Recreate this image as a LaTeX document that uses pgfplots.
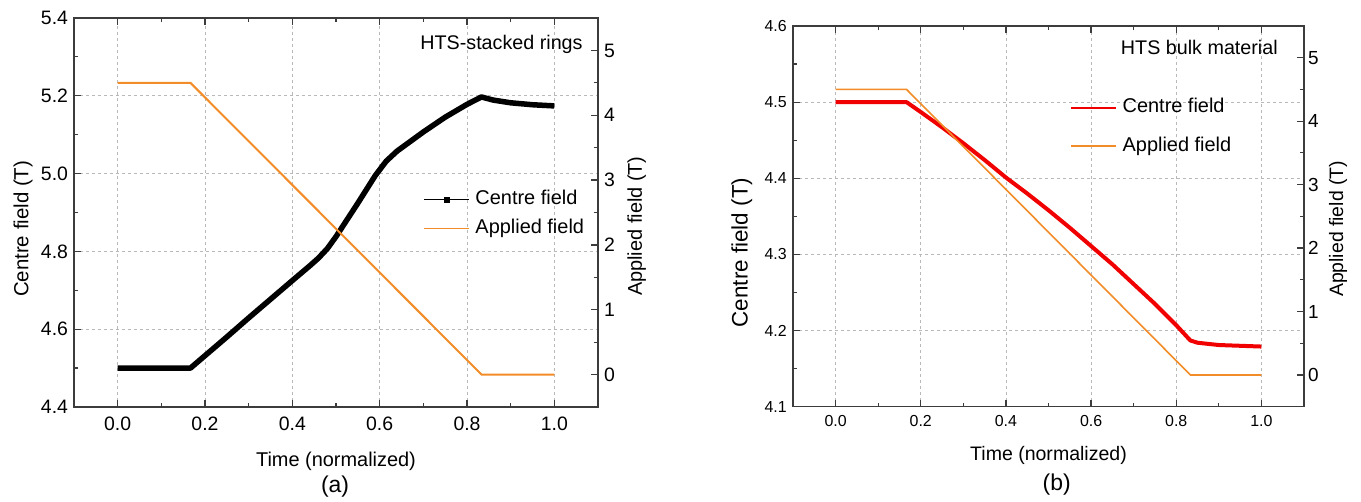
\documentclass[border=0pt]{standalone}
\usepackage{pgfplots}
\pgfplotsset{compat=1.18}
\usepackage{fontspec}
\setmainfont{Liberation Sans}
\definecolor{aorange}{RGB}{242,140,40}
\definecolor{axgray}{RGB}{60,60,60}
\definecolor{cred}{RGB}{240,0,0}

\pgfplotsset{
  panel/.style={
    scale only axis,
    xmin=-0.1, xmax=1.1,
    /pgf/number format/assume math mode=true,
    axis line style={axgray, line width=1.6bp},
    tick style={axgray, line width=1.2bp},
    major tick length=7bp,
    minor tick length=4bp,
  },
  primary/.style={
    panel,
    tick align=inside,
    xtick={0,0.2,0.4,0.6,0.8,1.0},
    minor x tick num=1,
    minor y tick num=1,
    ytick pos=left,
    xtick pos=both,
    xmajorgrids, ymajorgrids,
    major grid style={dash pattern=on 3bp off 3bp, gray!55, line width=0.8bp},
    xticklabel={\pgfmathprintnumber[fixed,fixed zerofill,precision=1]{\tick}},
    yticklabel={\pgfmathprintnumber[fixed,fixed zerofill,precision=1]{\tick}},
  },
  secondary/.style={
    panel,
    axis y line*=right,
    axis x line=none,
    tick align=inside,
    ymin=-0.5, ymax=5.5,
    ytick={0,1,2,3,4,5},
    minor y tick num=1,
  },
}

\begin{document}
\begin{tikzpicture}
\useasboundingbox (0,0) rectangle (1361bp,502bp);

% ---------------- Panel (a) ----------------
\begin{axis}[primary,
  at={(74bp,95bp)}, anchor=south west,
  width=524bp, height=389bp,
  ymin=4.4, ymax=5.4,
  ytick={4.4,4.6,4.8,5.0,5.2,5.4},
  tick label style={font=\fontsize{19.5}{19.5}\selectfont},
  xticklabel style={yshift=-6bp},
  yticklabel style={xshift=-2.5bp},
  xlabel={Time (normalized)},
  ylabel={Centre field (T)},
  xlabel style={at={(axis description cs:0.5,-0.140)}, anchor=center, font=\fontsize{20}{20}\selectfont},
  ylabel style={at={(axis description cs:-0.0973,0.458)}, anchor=center, font=\fontsize{20.5}{20.5}\selectfont},
]
\addplot[black, line width=5.5bp, line join=round] coordinates {
(0,4.5) (0.1667,4.5) (0.2,4.532) (0.25,4.580) (0.3,4.629) (0.35,4.677)
(0.4,4.725) (0.44,4.763) (0.46,4.783) (0.48,4.807) (0.5,4.838) (0.55,4.924) (0.59,4.995)
(0.615,5.032) (0.64,5.058) (0.7,5.107) (0.75,5.145) (0.8,5.178) (0.833,5.197)
(0.86,5.189) (0.9,5.182) (0.95,5.177) (1.0,5.174)
};
\node[anchor=east, inner sep=0pt, font=\fontsize{19.8}{19.8}\selectfont] at (rel axis cs:0.971,0.931) {HTS-stacked rings};
\end{axis}

\begin{axis}[secondary,
  at={(74bp,95bp)}, anchor=south west,
  width=524bp, height=389bp,
  tick label style={font=\fontsize{19.5}{19.5}\selectfont},
  yticklabel style={xshift=2.5bp},
  ylabel={Applied field (T)},
  ylabel style={at={(axis description cs:1.074,0.465)}, anchor=center, rotate=0, font=\fontsize{20}{20}\selectfont},
  legend style={draw=none, fill=none, at={(0.666,0.496)}, anchor=west,
    inner sep=0pt, row sep=10bp, column sep=5bp,
    font=\fontsize{20}{22}\selectfont,
    nodes={inner sep=0.5bp, text height=14bp, text depth=4bp}},
  legend cell align=left,
]
\addlegendimage{legend image code/.code={
  \draw[black, line width=1.8bp] (0bp,0bp) -- (45bp,0bp);
  \fill[black] (20bp,-2.5bp) rectangle (25bp,2.5bp);}}
\addlegendentry{Centre field}
\addplot[aorange, line width=2bp,
  legend image code/.code={\draw[aorange, line width=1.8bp] (0bp,0bp) -- (45bp,0bp);}]
  coordinates {(0,4.5) (0.1667,4.5) (0.8333,0) (1.0,0)};
\addlegendentry{Applied field}
\end{axis}

% ---------------- Panel (b) ----------------
\begin{axis}[primary,
  at={(793bp,95.3bp)}, anchor=south west,
  width=511bp, height=380.7bp,
  ymin=4.1, ymax=4.6,
  ytick={4.1,4.2,4.3,4.4,4.5,4.6},
  tick label style={font=\fontsize{16}{16}\selectfont},
  xticklabel style={yshift=-4.7bp},
  yticklabel style={xshift=-2.7bp},
  xlabel={Time (normalized)},
  ylabel={Centre field (T)},
  xlabel style={at={(axis description cs:0.5,-0.127)}, anchor=center, font=\fontsize{19.6}{19.6}\selectfont},
  ylabel style={at={(axis description cs:-0.1004,0.405)}, anchor=center, font=\fontsize{22.5}{22.5}\selectfont},
]
\addplot[cred, line width=4bp, line join=round] coordinates {
(0,4.5) (0.1667,4.5) (0.2,4.487) (0.25,4.467) (0.3,4.446) (0.35,4.424)
(0.4,4.401) (0.45,4.380) (0.5,4.358) (0.55,4.335) (0.6,4.311) (0.65,4.287)
(0.7,4.261) (0.75,4.235) (0.8,4.207) (0.833,4.187) (0.85,4.184)
(0.9,4.181) (0.95,4.180) (1.0,4.179)
};
\node[anchor=east, inner sep=0pt, font=\fontsize{19.8}{19.8}\selectfont] at (rel axis cs:0.949,0.9425) {HTS bulk material};
\end{axis}

\begin{axis}[secondary,
  at={(793bp,95.3bp)}, anchor=south west,
  width=511bp, height=380.7bp,
  tick label style={font=\fontsize{19}{19}\selectfont},
  yticklabel style={xshift=0.7bp},
  ylabel={Applied field (T)},
  ylabel style={at={(axis description cs:1.0665,0.467)}, anchor=center, rotate=0, font=\fontsize{19.5}{19.5}\selectfont},
  legend style={draw=none, fill=none, at={(0.542,0.735)}, anchor=west,
    inner sep=0pt, row sep=19.4bp, column sep=5bp,
    font=\fontsize{20}{22}\selectfont,
    nodes={inner sep=0.5bp, text height=14bp, text depth=4bp}},
  legend cell align=left,
]
\addlegendimage{legend image code/.code={
  \draw[cred, line width=2bp] (0bp,0bp) -- (45bp,0bp);}}
\addlegendentry{Centre field}
\addplot[aorange, line width=1.6bp,
  legend image code/.code={\draw[aorange, line width=1.6bp] (0bp,0bp) -- (45bp,0bp);}]
  coordinates {(0,4.5) (0.1667,4.5) (0.8333,0) (1.0,0)};
\addlegendentry{Applied field}
\end{axis}

\node[font=\fontsize{23}{23}\selectfont] at (335bp,15bp) {(a)};
\node[font=\fontsize{23}{23}\selectfont] at (1056.7bp,17bp) {(b)};
\end{tikzpicture}
\end{document}
